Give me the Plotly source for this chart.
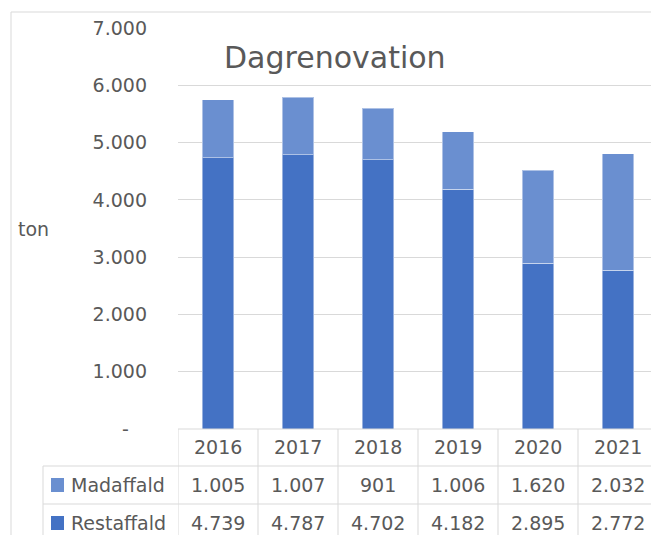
import plotly.graph_objects as go

years = ["2016", "2017", "2018", "2019", "2020", "2021"]
madaffald = [1005, 1007, 901, 1006, 1620, 2032]
restaffald = [4739, 4787, 4702, 4182, 2895, 2772]
series_names = ["Madaffald", "Restaffald"]
y_tickvals = [0, 1000, 2000, 3000, 4000, 5000, 6000, 7000]
y_ticktext = ["-\u00a0\u00a0\u00a0", "1.000", "2.000", "3.000", "4.000", "5.000", "6.000", "7.000"]
title_text = "Dagrenovation"
y_title = "ton"

C_MAD = "#6A8FD0"
C_REST = "#4472C4"
TXT = "#595959"
GRID = "#D9D9D9"
FONT = "DejaVu Sans"
FS = 19

W, H = 651, 535
L, T, B_PX = 178, 28, 429
R_PX = W
PH = B_PX - T
PW = R_PX - L


def py(p):
    return (B_PX - p) / PH


def px(p):
    return (p - L) / PW


def fmt(v):
    return f"{v:,}".replace(",", ".")


fig = go.Figure()
fig.add_trace(go.Bar(x=years, y=restaffald, name=series_names[1], marker=dict(color=C_REST, line=dict(color="rgba(255,255,255,0.45)", width=1))))
fig.add_trace(go.Bar(x=years, y=madaffald, name=series_names[0], marker=dict(color=C_MAD, line=dict(color="rgba(255,255,255,0.45)", width=1))))

ncol = len(years)
xmax = -0.5 + PW / 80.0

shapes = []
line = dict(color=GRID, width=1)
# outer chart border
shapes.append(dict(type="line", xref="paper", yref="paper", x0=px(11), x1=px(W + 5), y0=py(12), y1=py(12), line=line))
shapes.append(dict(type="line", xref="paper", yref="paper", x0=px(11), x1=px(11), y0=py(12), y1=py(H + 5), line=line))
# table horizontal lines
shapes.append(dict(type="line", xref="paper", yref="paper", x0=px(178), x1=px(W + 5), y0=py(429), y1=py(429), line=line))
for yy in (466, 504):
    shapes.append(dict(type="line", xref="paper", yref="paper", x0=px(43), x1=px(W + 5), y0=py(yy), y1=py(yy), line=line))
# left border of legend column
shapes.append(dict(type="line", xref="paper", yref="paper", x0=px(43), x1=px(43), y0=py(466), y1=py(H + 5), line=line))
# column separators
for i in range(ncol + 1):
    shapes.append(dict(type="line", xref="x", yref="paper", x0=i - 0.5, x1=i - 0.5, y0=py(429), y1=py(H + 5), line=line))
# legend swatches
for yc, col in ((485, C_MAD), (523, C_REST)):
    shapes.append(dict(type="rect", xref="paper", yref="paper", x0=px(51), x1=px(64), y0=py(yc - 7), y1=py(yc + 7), fillcolor=col, line=dict(width=0)))

ann = []
tf = dict(family=FONT, size=FS, color=TXT)
for i, yv in enumerate(years):
    ann.append(dict(x=i, y=py(447), xref="x", yref="paper", text=yv, showarrow=False, font=tf, xanchor="center", yanchor="middle"))
    ann.append(dict(x=i, y=py(485), xref="x", yref="paper", text=fmt(madaffald[i]), showarrow=False, font=tf, xanchor="center", yanchor="middle"))
    ann.append(dict(x=i, y=py(523), xref="x", yref="paper", text=fmt(restaffald[i]), showarrow=False, font=tf, xanchor="center", yanchor="middle"))
ann.append(dict(x=px(69), y=py(485), xref="paper", yref="paper", text=series_names[0], showarrow=False, font=tf, xanchor="left", yanchor="middle"))
ann.append(dict(x=px(69), y=py(523), xref="paper", yref="paper", text=series_names[1], showarrow=False, font=tf, xanchor="left", yanchor="middle"))
ann.append(dict(x=px(335), y=py(57), xref="paper", yref="paper", text=title_text, showarrow=False, font=dict(family=FONT, size=30, color=TXT), xanchor="center", yanchor="middle"))
ann.append(dict(x=px(16), y=py(229), xref="paper", yref="paper", text=y_title, showarrow=False, font=tf, xanchor="left", yanchor="middle"))

fig.update_layout(
    width=W, height=H,
    margin=dict(l=L, r=0, t=T, b=H - B_PX, pad=0),
    barmode="stack", bargap=0.605,
    showlegend=False,
    plot_bgcolor="white", paper_bgcolor="white",
    shapes=shapes, annotations=ann,
    font=dict(family=FONT, color=TXT),
    xaxis=dict(type="category", range=[-0.5, xmax], showticklabels=False, showgrid=False, zeroline=False, showline=False, ticks=""),
    yaxis=dict(range=[0, 7000], tickvals=y_tickvals, ticktext=y_ticktext, showgrid=True, gridcolor=GRID, gridwidth=1,
               zeroline=False, showline=False, ticks="", ticklabelstandoff=30,
               tickfont=dict(family=FONT, size=FS, color=TXT)),
)

fig.write_html("out.html", config={"displayModeBar": False},
               post_script="document.body.style.margin='0';document.body.style.overflow='hidden';")
